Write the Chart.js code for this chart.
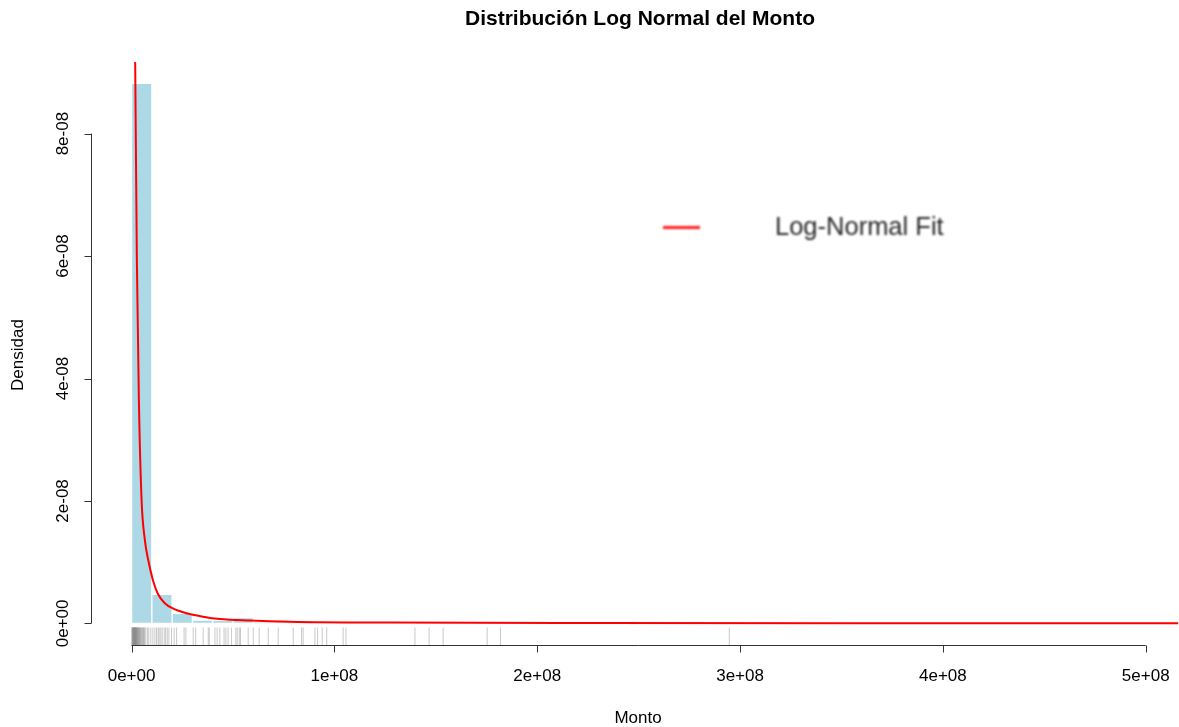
<!DOCTYPE html>
<html>
<head>
<meta charset="utf-8">
<script src="https://cdn.jsdelivr.net/npm/chart.js@4/dist/chart.umd.min.js"></script>
<style>
  html, body { margin: 0; padding: 0; background: #ffffff; }
  #wrap { width: 1179px; height: 727px; position: relative; }
</style>
</head>
<body>
<div id="wrap"><canvas id="c" width="1179" height="727"></canvas></div>
<script>
// Histogram breaks (Monto) and density per bin
const binBreaks = [
  0, 1e7, 2e7, 3e7, 4e7, 5e7, 6e7, 7e7, 8e7, 9e7,
  1e8, 1.1e8, 1.2e8, 1.3e8, 1.4e8, 1.5e8, 1.6e8, 1.7e8, 1.8e8, 1.9e8,
  2e8, 2.1e8, 2.2e8, 2.3e8, 2.4e8, 2.5e8, 2.6e8, 2.7e8, 2.8e8, 2.9e8, 3e8
];
const binDensity = [
  8.82e-8, 4.76e-9, 1.65e-9, 0.56e-9, 0.50e-9, 0.93e-9, 0.15e-9, 0.15e-9, 0.15e-9, 0.35e-9,
  0.15e-9, 0, 0, 0, 0.15e-9, 0.15e-9, 0, 0.15e-9, 0.15e-9, 0,
  0, 0, 0, 0, 0, 0, 0, 0, 0, 0.15e-9
];

// Fitted log-normal density curve
const fitX = [
  1.78e6, 2.61e6, 3.60e6, 4.93e6, 6.56e6, 8.19e6, 1.05e7,
  1.30e7, 1.64e7, 2.04e7, 2.71e7, 3.52e7, 4.35e7, 5.83e7, 7.80e7, 1.27e8, 2.31e8, 5.16e8
];
const fitY = [
  9.19e-8, 5.95e-8, 3.66e-8, 2.02e-8, 1.36e-8, 1.04e-8, 0.71e-8,
  0.48e-8, 0.33e-8, 0.244e-8, 0.165e-8, 0.11e-8, 0.072e-8, 0.047e-8, 0.028e-8, 0.013e-8, 0.006e-8, 0.002e-8
];

// Individual observations shown as a rug
const rugValues = [
  0.15e6, 0.3e6, 0.42e6, 0.55e6, 0.68e6, 0.8e6, 0.9e6, 1.0e6, 1.1e6, 1.2e6,
  1.3e6, 1.38e6, 1.47e6, 1.55e6, 1.65e6, 1.72e6, 1.8e6, 1.9e6, 2.0e6, 2.1e6,
  2.2e6, 2.3e6, 2.42e6, 2.55e6, 2.65e6, 2.8e6, 2.95e6, 3.1e6, 3.25e6, 3.4e6,
  3.6e6, 3.8e6, 4.0e6, 4.2e6, 4.45e6, 4.7e6, 5.0e6, 5.3e6, 5.6e6, 5.9e6,
  6.2e6, 6.5e6, 7.05e6, 7.9e6, 8.5e6, 9.5e6, 10.5e6, 11.5e6, 12.3e6, 13.1e6,
  13.6e6, 14.4e6, 15.1e6, 16.1e6, 16.8e6, 17.6e6, 18.4e6, 19.7e6, 21.0e6, 22.2e6,
  25.9e6, 26.8e6, 30.4e6, 31.6e6, 35.3e6, 37.8e6, 38.3e6, 41.1e6, 42.2e6, 43.5e6,
  45.6e6, 46.5e6, 47.6e6, 49.3e6, 51.4e6, 52.1e6, 53.1e6, 53.7e6, 57.5e6, 60.0e6,
  62.9e6, 67.4e6, 72.3e6, 79.7e6, 83.8e6, 84.6e6, 90.4e6, 91.7e6, 94.0e6, 96.2e6,
  104.3e6, 105.7e6, 139.7e6, 146.7e6, 153.6e6, 175.3e6, 181.9e6, 294.7e6
];

// Axis ticks
const xTicks = [0, 1e8, 2e8, 3e8, 4e8, 5e8];
const xTickLabels = ['0e+00', '1e+08', '2e+08', '3e+08', '4e+08', '5e+08'];
const yTicks = [0, 2e-8, 4e-8, 6e-8, 8e-8];
const yTickLabels = ['0e+00', '2e-08', '4e-08', '6e-08', '8e-08'];

const titleText = 'Distribución Log Normal del Monto';
const xTitle = 'Monto';
const yTitle = 'Densidad';
const legendText = 'Log-Normal Fit';

const FONT = '"Liberation Sans", Arial, Helvetica, sans-serif';

const histData = binDensity.map((d, i) => ({ x: (binBreaks[i] + binBreaks[i + 1]) / 2, y: d }));
const fitData = fitX.map((x, i) => ({ x: x, y: fitY[i] }));

// Base-graphics style axes, rug, title and legend
const basePlot = {
  id: 'basePlot',
  beforeDatasetsDraw(chart) {
    const ctx = chart.ctx, xs = chart.scales.x, area = chart.chartArea;
    const len = 0.03 * (area.bottom - area.top);
    ctx.save();
    ctx.strokeStyle = 'rgba(135,135,135,0.45)';
    ctx.lineWidth = 1;
    rugValues.forEach(v => {
      const px = xs.getPixelForValue(v);
      ctx.beginPath();
      ctx.moveTo(px, area.bottom);
      ctx.lineTo(px, area.bottom - len);
      ctx.stroke();
    });
    ctx.restore();
  },
  afterDraw(chart) {
    const ctx = chart.ctx, xs = chart.scales.x, ys = chart.scales.y, area = chart.chartArea;
    ctx.save();
    ctx.strokeStyle = '#333333';
    ctx.fillStyle = '#000000';
    ctx.lineWidth = 1;

    // x axis
    const ay = area.bottom + 0.5;
    ctx.beginPath();
    ctx.moveTo(xs.getPixelForValue(xTicks[0]), ay);
    ctx.lineTo(xs.getPixelForValue(xTicks[xTicks.length - 1]), ay);
    xTicks.forEach(t => {
      const px = Math.round(xs.getPixelForValue(t)) + 0.5;
      ctx.moveTo(px, ay);
      ctx.lineTo(px, ay + 7);
    });
    ctx.stroke();
    ctx.font = '17px ' + FONT;
    ctx.textAlign = 'center';
    ctx.textBaseline = 'middle';
    xTicks.forEach((t, i) => ctx.fillText(xTickLabels[i], xs.getPixelForValue(t), ay + 31));

    // y axis
    const ax = area.left + 0.5;
    ctx.beginPath();
    ctx.moveTo(ax, ys.getPixelForValue(yTicks[0]));
    ctx.lineTo(ax, ys.getPixelForValue(yTicks[yTicks.length - 1]));
    yTicks.forEach(t => {
      const py = Math.round(ys.getPixelForValue(t)) + 0.5;
      ctx.moveTo(ax, py);
      ctx.lineTo(ax - 7, py);
    });
    ctx.stroke();
    yTicks.forEach((t, i) => {
      ctx.save();
      ctx.translate(ax - 28, ys.getPixelForValue(t));
      ctx.rotate(-Math.PI / 2);
      ctx.fillText(yTickLabels[i], 0, 0);
      ctx.restore();
    });

    // axis titles
    ctx.fillText(xTitle, 638, 718);
    ctx.save();
    ctx.translate(18, 355);
    ctx.rotate(-Math.PI / 2);
    ctx.fillText(yTitle, 0, 0);
    ctx.restore();

    // main title
    ctx.font = 'bold 21px ' + FONT;
    ctx.fillText(titleText, 640, 19);

    // legend (soft edges)
    ctx.filter = 'blur(0.8px)';
    ctx.strokeStyle = '#ff1a1a';
    ctx.lineWidth = 3;
    ctx.beginPath();
    ctx.moveTo(663, 227.5);
    ctx.lineTo(700, 227.5);
    ctx.stroke();
    ctx.fillStyle = '#262626';
    ctx.font = '25.5px ' + FONT;
    ctx.textAlign = 'left';
    ctx.fillText(legendText, 775, 228);
    ctx.filter = 'none';
    ctx.restore();
  }
};

new Chart(document.getElementById('c'), {
  data: {
    datasets: [
      {
        type: 'line',
        label: legendText,
        data: fitData,
        borderColor: '#ff0000',
        borderWidth: 2,
        pointRadius: 0,
        cubicInterpolationMode: 'monotone',
        fill: false,
        order: 0
      },
      {
        type: 'bar',
        label: 'Histograma',
        data: histData,
        backgroundColor: '#add8e6',
        borderColor: '#ffffff',
        borderWidth: 1,
        borderSkipped: false,
        barPercentage: 1,
        categoryPercentage: 1,
        order: 1
      }
    ]
  },
  options: {
    responsive: false,
    devicePixelRatio: 1,
    animation: false,
    layout: { padding: { left: 91, right: 0, top: 62, bottom: 82 } },
    scales: {
      x: { type: 'linear', min: -2.0e7, max: 5.164e8, offset: false, display: false },
      y: { type: 'linear', min: -0.353e-8, max: 9.17e-8, display: false }
    },
    plugins: {
      legend: { display: false },
      title: { display: false },
      tooltip: { enabled: false }
    }
  },
  plugins: [basePlot]
});
</script>
</body>
</html>
